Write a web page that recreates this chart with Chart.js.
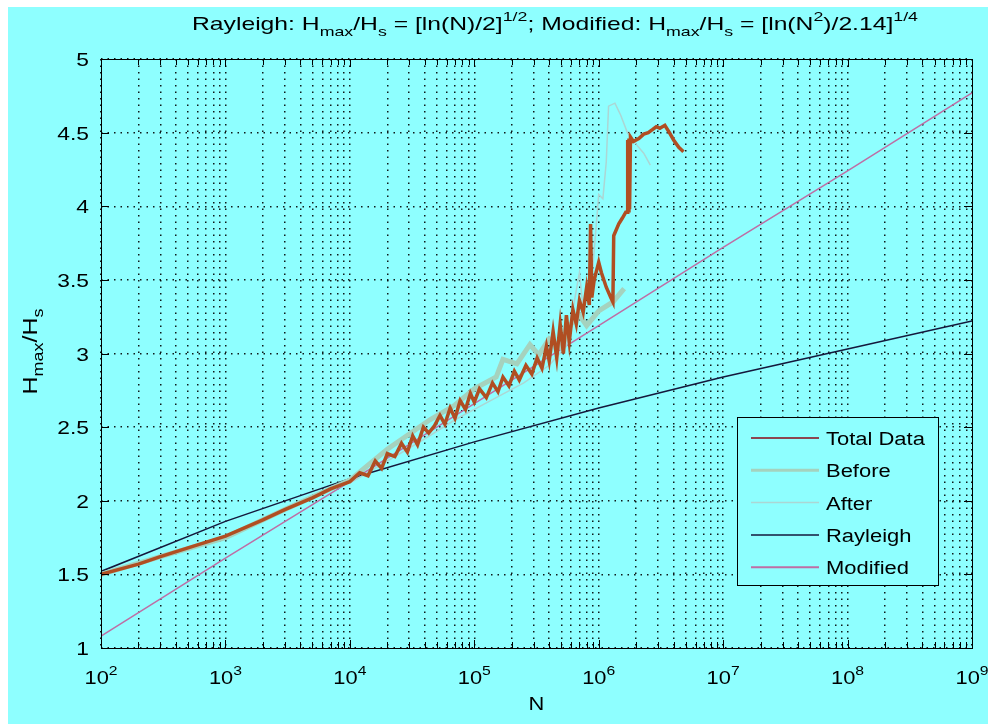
<!DOCTYPE html>
<html>
<head>
<meta charset="utf-8">
<script src="https://cdn.jsdelivr.net/npm/chart.js@4.4.1/dist/chart.umd.min.js"></script>
<style>
  html, body { margin: 0; padding: 0; background: #ffffff; }
  #chart { display: block; }
</style>
</head>
<body>
<canvas id="chart" width="988" height="724"></canvas>
<script>
// Datos
const totalN = [1e2, 2e2, 3e2, 5e2, 1e3, 2e3, 3e3, 5e3, 7e3, 1e4,
  1.2e4, 1.4e4, 1.6e4, 1.8e4, 2.0e4, 2.3e4, 2.6e4, 2.9e4, 3.2e4, 3.5e4,
  3.9e4, 4.3e4, 4.8e4, 5.3e4, 5.8e4, 6.4e4, 7e4, 7.7e4, 8.5e4, 9.3e4,
  1.0e5, 1.1e5, 1.25e5, 1.4e5, 1.55e5, 1.7e5, 1.9e5, 2.1e5, 2.3e5, 2.6e5,
  2.9e5, 3.2e5, 3.5e5, 3.8e5, 4.0e5, 4.3e5, 4.6e5, 4.9e5, 5.2e5, 5.5e5,
  5.8e5, 6.2e5, 6.6e5, 7.0e5, 7.5e5, 8.0e5, 8.4e5, 8.6e5, 8.8e5, 9.2e5,
  1.0e6, 1.05e6, 1.15e6, 1.25e6, 1.3e6, 1.32e6, 1.45e6, 1.55e6, 1.65e6, 1.70e6,
  1.71e6, 1.73e6, 1.75e6, 1.77e6, 1.80e6, 1.90e6, 2.1e6, 2.3e6, 2.5e6, 2.7e6,
  2.9e6, 3.1e6, 3.4e6, 3.7e6, 4.0e6, 4.4e6, 4.8e6];
const totalH = [1.50, 1.57, 1.62, 1.68, 1.76, 1.87, 1.94, 2.02, 2.08, 2.13,
  2.19, 2.17, 2.27, 2.22, 2.32, 2.30, 2.39, 2.33, 2.44, 2.38,
  2.50, 2.46, 2.51, 2.58, 2.52, 2.63, 2.56, 2.68, 2.62, 2.73,
  2.67, 2.76, 2.70, 2.80, 2.74, 2.84, 2.78, 2.88, 2.82, 2.92,
  2.86, 2.97, 2.90, 3.05, 2.95, 3.15, 2.97, 3.20, 3.00, 3.26,
  3.08, 3.30, 3.20, 3.36, 3.28, 3.45, 3.33, 3.88, 3.38, 3.50,
  3.62, 3.55, 3.45, 3.38, 3.35, 3.80, 3.88, 3.92, 3.96, 3.96,
  4.45, 3.97, 4.46, 3.98, 4.47, 4.44, 4.46, 4.49, 4.50, 4.52,
  4.54, 4.53, 4.55, 4.50, 4.45, 4.40, 4.37];

const beforeN = [1e2, 3e2, 1e3, 3e3, 1e4, 2e4, 4.4e4, 7e4, 1e5, 1.5e5,
  1.7e5, 2.2e5, 2.8e5, 3.3e5, 4e5, 5e5, 6e5, 7e5, 8e5, 1e6, 1.3e6, 1.6e6];
const beforeH = [1.50, 1.62, 1.75, 1.94, 2.14, 2.35, 2.55, 2.65, 2.76, 2.84,
  2.96, 2.93, 3.06, 2.99, 3.10, 3.04, 3.20, 3.26, 3.19, 3.29, 3.35, 3.44];

const afterN = [1e4, 2e4, 4e4, 7e4, 1e5, 1.5e5, 2.5e5, 4e5, 5.5e5, 7e5,
  7.5e5, 9e5, 1.0e6, 1.08e6, 1.15e6, 1.2e6, 1.35e6, 1.5e6, 1.7e6, 2.0e6, 2.3e6, 2.6e6];
const afterH = [2.12, 2.27, 2.42, 2.55, 2.62, 2.70, 2.80, 2.92, 3.05, 3.55,
  3.30, 3.60, 4.08, 4.05, 4.30, 4.68, 4.70, 4.62, 4.50, 4.42, 4.36, 4.28];

const rayleighN = [1e2, 1e3, 1e4, 1e5, 1e6, 1e7, 1e8, 1e9];
const rayleighH = [1.52, 1.86, 2.15, 2.40, 2.63, 2.84, 3.03, 3.22];

const modifiedN = [1e2, 1e3, 1e4, 1e5, 1e6, 1e7, 1e8, 1e9];
const modifiedH = [1.08, 1.61, 2.13, 2.66, 3.19, 3.72, 4.24, 4.77];

const yTicks = [1, 1.5, 2, 2.5, 3, 3.5, 4, 4.5, 5];
const xPowers = [2, 3, 4, 5, 6, 7, 8, 9];
const seriesNames = ['Total Data', 'Before', 'After', 'Rayleigh', 'Modified'];

const bgColor = '#8effff';
const fontFam = '"Liberation Sans", Arial, sans-serif';

function pts(xs, ys) {
    return xs.map((x, i) => ({ x: x, y: ys[i] }));
}

// Texto con subíndices y superíndices (sx = estirado horizontal)
function richWidth(ctx, parts, size) {
    let w = 0;
    parts.forEach(p => {
        const s = p[1] === 'n' ? size : size * 0.72;
        ctx.font = s + 'px ' + fontFam;
        w += ctx.measureText(p[0]).width;
    });
    return w;
}

function drawRich(ctx, parts, x, y, size, align, sx) {
    sx = sx || 1;
    const w = richWidth(ctx, parts, size) * sx;
    const x0 = align === 'center' ? x - w / 2 : (align === 'right' ? x - w : x);
    ctx.save();
    ctx.translate(x0, y);
    ctx.scale(sx, 1);
    ctx.textBaseline = 'alphabetic';
    ctx.textAlign = 'left';
    let cx = 0;
    parts.forEach(p => {
        let s = size, dy = 0;
        if (p[1] === 'sub') { s = size * 0.72; dy = size * 0.32; }
        if (p[1] === 'sup') { s = size * 0.72; dy = -size * 0.45; }
        ctx.font = s + 'px ' + fontFam;
        ctx.fillText(p[0], cx, dy);
        cx += ctx.measureText(p[0]).width;
    });
    ctx.restore();
}

function drawText(ctx, text, x, y, size, align, sx) {
    drawRich(ctx, [[text, 'n']], x, y, size, align, sx);
}

const matlabPlugin = {
    id: 'matlabLook',
    beforeDraw(chart) {
        const ctx = chart.ctx;
        ctx.save();
        ctx.fillStyle = '#ffffff';
        ctx.fillRect(0, 0, chart.width, chart.height);
        ctx.fillStyle = bgColor;
        ctx.fillRect(8, 7, chart.width - 8, chart.height - 7);
        ctx.restore();
    },
    afterDraw(chart) {
        const ctx = chart.ctx;
        const a = chart.chartArea;
        const xs = chart.scales.x;
        const ys = chart.scales.y;
        ctx.save();
        ctx.strokeStyle = '#000';
        ctx.fillStyle = '#000';
        ctx.lineWidth = 1;

        // marco
        ctx.strokeRect(Math.round(a.left) + 0.5, Math.round(a.top) + 0.5,
            Math.round(a.right - a.left), Math.round(a.bottom - a.top));

        // marcas hacia dentro
        ctx.beginPath();
        xs.ticks.forEach(t => {
            const px = Math.round(xs.getPixelForValue(t.value)) + 0.5;
            const major = Math.abs(Math.log10(t.value) - Math.round(Math.log10(t.value))) < 1e-9;
            const len = major ? 8 : 6;
            ctx.moveTo(px, a.bottom); ctx.lineTo(px, a.bottom - len);
            ctx.moveTo(px, a.top); ctx.lineTo(px, a.top + len);
        });
        yTicks.forEach(v => {
            const py = Math.round(ys.getPixelForValue(v)) + 0.5;
            ctx.moveTo(a.left, py); ctx.lineTo(a.left + 8, py);
            ctx.moveTo(a.right, py); ctx.lineTo(a.right - 8, py);
        });
        ctx.stroke();

        // etiquetas eje Y
        yTicks.forEach(v => {
            drawText(ctx, String(v), a.left - 12, ys.getPixelForValue(v) + 7, 19, 'right', 1.2);
        });

        // etiquetas eje X
        xPowers.forEach(p => {
            const px = xs.getPixelForValue(Math.pow(10, p));
            drawRich(ctx, [['10', 'n'], [String(p), 'sup']], px, 684, 19, 'center', 1.15);
        });

        // títulos de ejes
        drawText(ctx, 'N', (a.left + a.right) / 2, 710, 19, 'center', 1.15);

        ctx.save();
        ctx.translate(37, (a.top + a.bottom) / 2 - 2);
        ctx.rotate(-Math.PI / 2);
        drawRich(ctx, [['H', 'n'], ['max', 'sub'], ['/H', 'n'], ['s', 'sub']], 0, 0, 20, 'center', 1.25);
        ctx.restore();

        // título
        const titleParts = [
            ['Rayleigh: H', 'n'], ['max', 'sub'], ['/H', 'n'], ['s', 'sub'],
            [' = [ln(N)/2]', 'n'], ['1/2', 'sup'],
            ['; Modified: H', 'n'], ['max', 'sub'], ['/H', 'n'], ['s', 'sub'],
            [' = [ln(N', 'n'], ['2', 'sup'], [')/2.14]', 'n'], ['1/4', 'sup']
        ];
        const tw = richWidth(ctx, titleParts, 19);
        drawRich(ctx, titleParts, 555, 30, 19, 'center', 726 / tw);

        // leyenda
        const lx = 737, ly = 417, lw = 201, lh = 168;
        ctx.fillStyle = bgColor;
        ctx.fillRect(lx, ly, lw, lh);
        ctx.strokeStyle = '#000';
        ctx.lineWidth = 1;
        ctx.strokeRect(lx + 0.5, ly + 0.5, lw, lh);
        chart.data.datasets.forEach((ds, i) => {
            const ry = ly + 21 + i * 32.3;
            ctx.strokeStyle = ds.legendColor || ds.borderColor;
            ctx.lineWidth = ds.legendWidth;
            ctx.beginPath();
            ctx.moveTo(lx + 14, ry); ctx.lineTo(lx + 82, ry);
            ctx.stroke();
            ctx.fillStyle = '#000';
            drawText(ctx, seriesNames[i], lx + 89, ry + 7, 18, 'left', 1.22);
        });
        ctx.restore();
    }
};

const ctx = document.getElementById('chart').getContext('2d');
const chart = new Chart(ctx, {
    type: 'line',
    data: {
        datasets: [
            { label: seriesNames[0], data: pts(totalN, totalH), borderColor: 'rgb(176,78,34)', legendColor: 'rgb(140,70,80)', borderWidth: 3.5, legendWidth: 2 },
            { label: seriesNames[1], data: pts(beforeN, beforeH), borderColor: 'rgb(165,210,190)', borderWidth: 5, legendWidth: 3 },
            { label: seriesNames[2], data: pts(afterN, afterH), borderColor: 'rgb(172,214,212)', borderWidth: 1.5, legendWidth: 1.5 },
            { label: seriesNames[3], data: pts(rayleighN, rayleighH), borderColor: 'rgb(20,24,60)', borderWidth: 1.5, legendWidth: 1.5 },
            { label: seriesNames[4], data: pts(modifiedN, modifiedH), borderColor: 'rgb(190,110,165)', borderWidth: 1.5, legendWidth: 2 }
        ]
    },
    options: {
        responsive: false,
        animation: false,
        layout: { padding: { left: 101, right: 16, top: 59, bottom: 76 } },
        elements: { point: { radius: 0 }, line: { tension: 0 } },
        plugins: { legend: { display: false }, tooltip: { enabled: false } },
        scales: {
            x: {
                type: 'logarithmic',
                min: 1e2,
                max: 1e9,
                afterBuildTicks: function(scale) {
                    const t = [];
                    for (let k = 2; k < 9; k++) {
                        for (let m = 1; m <= 9; m++) t.push({ value: m * Math.pow(10, k) });
                    }
                    t.push({ value: 1e9 });
                    scale.ticks = t;
                },
                ticks: { display: false },
                grid: { color: 'rgba(0,0,0,0.9)', lineWidth: 1.5, drawTicks: false },
                border: { display: false, dash: [1.5, 5] }
            },
            y: {
                type: 'linear',
                min: 1,
                max: 5,
                ticks: { display: false, stepSize: 0.5 },
                grid: { color: 'rgba(0,0,0,0.9)', lineWidth: 1.5, drawTicks: false },
                border: { display: false, dash: [1.5, 5] }
            }
        }
    },
    plugins: [matlabPlugin]
});
</script>
</body>
</html>
